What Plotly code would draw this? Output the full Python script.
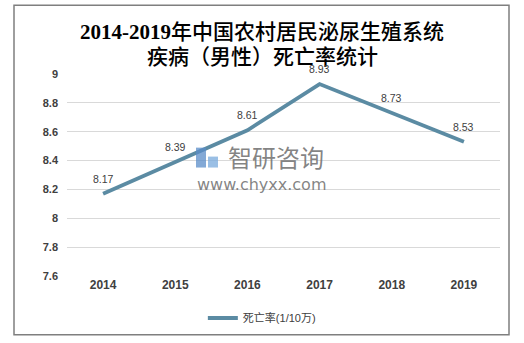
import plotly.graph_objects as go

# Rural residents, urogenital system disease (male) mortality per 100k
years = ["2014", "2015", "2016", "2017", "2018", "2019"]
death_rate = [8.17, 8.39, 8.61, 8.93, 8.73, 8.53]
y_ticks = [7.6, 7.8, 8.0, 8.2, 8.4, 8.6, 8.8, 9.0]
y_tick_text = ["7.6", "7.8", "8", "8.2", "8.4", "8.6", "8.8", "9"]
series_name = "死亡率(1/10万)"
title_lines = ["<b>2014-2019</b>年中国农村居民泌尿生殖系统", "疾病（男性）死亡率统计"]

W, H = 524, 343
L, R, T, B = 67, 24, 74, 66
pw, ph = W - L - R, H - T - B


def px_x(x):
    return (x - L) / pw


def px_y(y):
    return (H - B - y) / ph


line_color = "#5b8ba3"

fig = go.Figure()
fig.add_trace(go.Scatter(
    x=years, y=death_rate, mode="lines", name=series_name,
    line=dict(color=line_color, width=3.8),
    showlegend=True,
))

title_font = dict(family="Liberation Serif, Noto Sans CJK SC", size=21, color="#000000", weight=500)
annotations = [
    dict(text=title_lines[0], x=px_x(262), y=px_y(32), xref="paper", yref="paper",
         showarrow=False, xanchor="center", yanchor="middle", font=title_font),
    dict(text=title_lines[1], x=px_x(262), y=px_y(57), xref="paper", yref="paper",
         showarrow=False, xanchor="center", yanchor="middle", font=title_font),
    # watermark
    dict(text="智研咨询", x=px_x(276), y=px_y(157), xref="paper", yref="paper",
         showarrow=False, xanchor="center", yanchor="middle",
         font=dict(family="Noto Sans CJK SC", size=24, color="rgba(110,110,110,0.85)")),
    dict(text="www.chyxx.com", x=px_x(261), y=px_y(185), xref="paper", yref="paper",
         showarrow=False, xanchor="center", yanchor="middle",
         font=dict(family="DejaVu Sans", size=16, color="rgba(110,110,110,0.85)")),
]

# value labels above each point (category index on the x axis)
for i, v in enumerate(death_rate):
    annotations.append(dict(
        x=i, y=v, xref="x", yref="y", text=f"{v:.2f}", showarrow=False,
        yshift=15, xanchor="center", yanchor="middle",
        font=dict(family="Liberation Sans, Arial", size=10.5, color="#404040"),
    ))

shapes = [
    dict(type="rect", xref="paper", yref="paper",
         x0=px_x(14), x1=px_x(509), y0=px_y(336), y1=px_y(5),
         line=dict(color="#7f7f7f", width=1.5), fillcolor="rgba(0,0,0,0)", layer="below"),
    # watermark logo blocks
    dict(type="rect", xref="paper", yref="paper",
         x0=px_x(196), x1=px_x(206), y0=px_y(168), y1=px_y(148),
         line=dict(width=0), fillcolor="rgba(90,140,200,0.75)"),
    dict(type="rect", xref="paper", yref="paper",
         x0=px_x(208), x1=px_x(218), y0=px_y(168), y1=px_y(157),
         line=dict(width=0), fillcolor="rgba(120,170,220,0.75)"),
]

fig.update_layout(
    width=W, height=H,
    margin=dict(l=L, r=R, t=T, b=B),
    paper_bgcolor="white", plot_bgcolor="white",
    annotations=annotations, shapes=shapes,
    showlegend=True,
    legend=dict(orientation="h", x=0.45, y=px_y(318), xanchor="center", yanchor="middle",
                font=dict(family="Liberation Sans, Noto Sans CJK SC", size=11, color="#404040")),
    xaxis=dict(type="category", range=[-0.5, 5.5], showgrid=False, showline=False, ticks="",
               tickfont=dict(family="Liberation Sans, Arial", size=12, color="#404040", weight="bold")),
    yaxis=dict(range=[7.6, 9.0], tickvals=y_ticks, ticktext=y_tick_text,
               showgrid=True, gridcolor="#d9d9d9", gridwidth=1, zeroline=False,
               showline=False, ticks="", ticklabelstandoff=8,
               tickfont=dict(family="Liberation Sans, Arial", size=11, color="#404040", weight="bold")),
)

fig.write_html("out.html")
